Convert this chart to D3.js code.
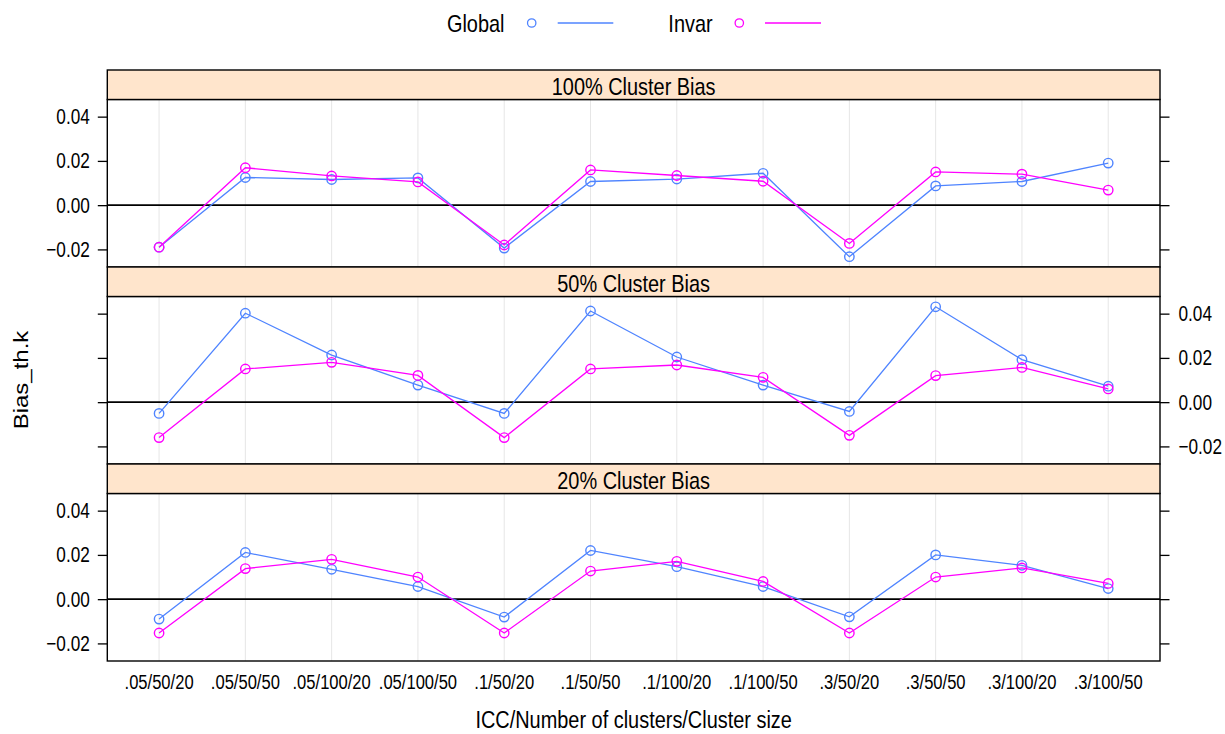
<!DOCTYPE html>
<html>
<head>
<meta charset="utf-8">
<script src="https://cdn.jsdelivr.net/npm/d3@7/dist/d3.min.js"></script>
<style>
  html, body { margin: 0; padding: 0; background: #fff; }
  text { font-family: "Liberation Sans", Arial, sans-serif; fill: #000; }
</style>
</head>
<body>
<svg id="chart" width="1225" height="734"></svg>
<script>
// Design cells: ICC / number of clusters / cluster size
const categories = [".05/50/20", ".05/50/50", ".05/100/20", ".05/100/50",
  ".1/50/20", ".1/50/50", ".1/100/20", ".1/100/50",
  ".3/50/20", ".3/50/50", ".3/100/20", ".3/100/50"];

const panelNames = ["100% Cluster Bias", "50% Cluster Bias", "20% Cluster Bias"];
const seriesNames = ["Global", "Invar"];

// Bias of the threshold estimates, per panel and method
const global100 = [-0.019, 0.0125, 0.0116, 0.0123, -0.0194, 0.0107, 0.0118, 0.0144, -0.0233, 0.0087, 0.0107, 0.019];
const invar100  = [-0.019, 0.0169, 0.0132, 0.0105, -0.018, 0.0159, 0.0134, 0.0108, -0.0173, 0.015, 0.014, 0.0068];
const global50  = [-0.0051, 0.0402, 0.0213, 0.0077, -0.0051, 0.0412, 0.0204, 0.0077, -0.0042, 0.0431, 0.0192, 0.0072];
const invar50   = [-0.016, 0.015, 0.018, 0.0121, -0.016, 0.015, 0.0168, 0.0112, -0.015, 0.012, 0.0157, 0.006];
const global20  = [-0.009, 0.0211, 0.0135, 0.0057, -0.0081, 0.022, 0.0147, 0.0057, -0.008, 0.020, 0.0153, 0.0048];
const invar20   = [-0.0153, 0.0138, 0.018, 0.010, -0.0153, 0.0127, 0.0171, 0.008, -0.0153, 0.010, 0.0141, 0.0071];

const yTicks = [-0.02, 0.00, 0.02, 0.04];

const panels = [
  { name: panelNames[0], series: [global100, invar100], labelSide: "left" },
  { name: panelNames[1], series: [global50, invar50], labelSide: "right" },
  { name: panelNames[2], series: [global20, invar20], labelSide: "left" }
];

const colors = ["#4f84ff", "#ff00ff"];

const svg = d3.select("#chart");

const left = 107.3, right = 1160;
const top0 = 70, stripH = 29.5, panelH = 167.5;
const blockH = stripH + panelH;

const x = d3.scalePoint().domain(categories).range([left, right]).padding(0.6);

// Shared y range, padded by 7% on each side
const all = panels.flatMap(p => p.series.flat());
const [lo, hi] = d3.extent(all);
const pad = (hi - lo) * 0.07;
const yDomain = [lo - pad, hi + pad];

const fmt = v => (v < 0 ? "\u2212" : "") + Math.abs(v).toFixed(2);
const SX = 0.83;   // condensed text width
const TSX = 0.8;   // condensed tick label width

panels.forEach((p, i) => {
  const stripTop = top0 + i * blockH;
  const pTop = stripTop + stripH;
  const pBot = pTop + panelH;
  const y = d3.scaleLinear().domain(yDomain).range([pBot, pTop]);

  const g = svg.append("g");

  // vertical reference lines
  g.selectAll("line.grid").data(categories).enter().append("line")
    .attr("x1", d => x(d)).attr("x2", d => x(d))
    .attr("y1", pTop).attr("y2", pBot)
    .attr("stroke", "#e6e6e6").attr("stroke-width", 1);

  // zero line
  g.append("line")
    .attr("x1", left).attr("x2", right)
    .attr("y1", y(0)).attr("y2", y(0))
    .attr("stroke", "#000").attr("stroke-width", 1.6);

  // series
  const line = d3.line().x((d, k) => x(categories[k])).y(d => y(d));
  p.series.forEach((vals, s) => {
    g.append("path").datum(vals)
      .attr("d", line).attr("fill", "none")
      .attr("stroke", colors[s]).attr("stroke-width", 1.3);
    g.selectAll(null).data(vals).enter().append("circle")
      .attr("cx", (d, k) => x(categories[k])).attr("cy", d => y(d))
      .attr("r", 4.7).attr("fill", "none")
      .attr("stroke", colors[s]).attr("stroke-width", 1.4);
  });

  // panel frame
  g.append("rect")
    .attr("x", left).attr("y", pTop).attr("width", right - left).attr("height", panelH)
    .attr("fill", "none").attr("stroke", "#000").attr("stroke-width", 1.4);

  // strip
  g.append("rect")
    .attr("x", left).attr("y", stripTop).attr("width", right - left).attr("height", stripH)
    .attr("fill", "#ffe5cc").attr("stroke", "#000").attr("stroke-width", 1.4);
  g.append("text")
    .attr("transform", `translate(${(left + right) / 2},${stripTop + 24.5}) scale(${SX},1)`)
    .attr("text-anchor", "middle").attr("font-size", 24)
    .text(p.name);

  // y axes: labelled side alternates between panels
  const leftAxis = d3.axisLeft(y).tickValues(yTicks).tickSize(9.5).tickPadding(8).tickFormat(fmt);
  const rightAxis = d3.axisRight(y).tickValues(yTicks).tickSize(9.5).tickPadding(9).tickFormat(fmt);
  const la = g.append("g").attr("transform", `translate(${left},0)`).call(leftAxis);
  const ra = g.append("g").attr("transform", `translate(${right},0)`).call(rightAxis);
  [la, ra].forEach(a => {
    a.select(".domain").remove();
    a.selectAll(".tick line").attr("stroke", "#000").attr("stroke-width", 1.3);
    a.selectAll(".tick text")
      .attr("font-size", 21.5).attr("font-family", "Liberation Sans, Arial, sans-serif")
      .attr("fill", "#000")
      .attr("transform", function () {
        const tx = +d3.select(this).attr("x");
        return `translate(${tx},0) scale(${TSX},1) translate(${-tx},0)`;
      });
  });
  if (p.labelSide === "left") ra.selectAll(".tick text").remove();
  else la.selectAll(".tick text").remove();

  // category labels under the last panel
  if (i === panels.length - 1) {
    g.selectAll("text.xlab").data(categories).enter().append("text")
      .attr("transform", d => `translate(${x(d)},${pBot + 27.5}) scale(0.85,1)`)
      .attr("text-anchor", "middle").attr("font-size", 19.5)
      .text(d => d);
  }
});

// axis titles
svg.append("text")
  .attr("transform", `translate(${(left + right) / 2},728) scale(${SX},1)`)
  .attr("text-anchor", "middle").attr("font-size", 24)
  .text("ICC/Number of clusters/Cluster size");

svg.append("text")
  .attr("transform", `translate(28,380) scale(0.86,1) rotate(-90)`)
  .attr("text-anchor", "middle").attr("font-size", 24)
  .text("Bias_th.k");

// legend
const legend = [
  { label: seriesNames[0], tx: 475.7, cx: 531.7, l1: 557.7, l2: 613.3 },
  { label: seriesNames[1], tx: 690.5, cx: 739.3, l1: 765, l2: 821 }
];
legend.forEach((d, s) => {
  svg.append("text")
    .attr("transform", `translate(${d.tx},32.3) scale(${SX},1)`)
    .attr("text-anchor", "middle").attr("font-size", 24).text(d.label);
  svg.append("circle").attr("cx", d.cx).attr("cy", 23).attr("r", 4.2)
    .attr("fill", "none").attr("stroke", colors[s]).attr("stroke-width", 1.3);
  svg.append("line").attr("x1", d.l1).attr("x2", d.l2).attr("y1", 23).attr("y2", 23)
    .attr("stroke", colors[s]).attr("stroke-width", 1.3);
});
</script>
</body>
</html>
